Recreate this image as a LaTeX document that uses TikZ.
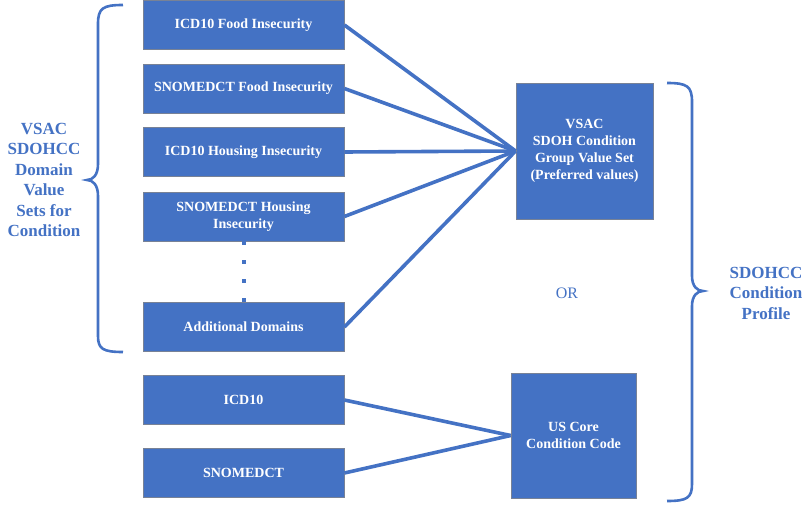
\documentclass[tikz,border=0pt]{standalone}
\usepackage{fontspec}
\setmainfont{Liberation Serif}
\usepackage{tikz}
\usetikzlibrary{positioning, calc}
\definecolor{myblue}{RGB}{68,114,196}
\definecolor{myedge}{RGB}{120,130,150}
\tikzset{
  box/.style={rectangle, draw=myedge, fill=myblue, text=white,
    minimum width=201pt, minimum height=49pt, align=center,
    font=\fontsize{14}{17}\selectfont\bfseries, line width=0.8pt, inner sep=0pt},
  bigbox/.style={rectangle, draw=myedge, fill=myblue, text=white,
    align=center, font=\fontsize{14}{17}\selectfont\bfseries,
    line width=0.8pt, inner sep=0pt},
  label/.style={text=myblue, align=center,
    font=\fontsize{17}{20.5}\selectfont\bfseries},
  link/.style={color=myblue, line width=3.6pt},
  brace/.style={color=myblue, line width=2.6pt},
  dots/.style={color=myblue, line width=4pt, dash pattern=on 4pt off 15pt}
}
\begin{document}
\begin{tikzpicture}[x=1pt, y=-1pt]
  \useasboundingbox (0,0) rectangle (811,505);

  % Domain value sets
  \node[box] (icdfood) at (243.5,25) {ICD10 Food Insecurity};
  \node[box] (snofood) at (243.5,88.5) {SNOMEDCT Food Insecurity};
  \node[box] (icdhouse) at (243.5,152) {ICD10 Housing Insecurity};
  \node[box] (snohouse) at (243.5,216.5) {SNOMEDCT Housing\\Insecurity};
  \node[box] (adddom) at (243.5,327) {Additional Domains};

  % Code systems
  \node[box] (icd) at (243.5,400) {ICD10};
  \node[box] (sno) at (243.5,473) {SNOMEDCT};

  % Targets
  \node[bigbox, minimum width=137pt, minimum height=136pt] (vsac) at (584.5,151)
    {VSAC\\SDOH Condition\\Group Value Set\\(Preferred values)};
  \node[bigbox, minimum width=125pt, minimum height=125pt] (uscore) at (573.5,435.5)
    {US Core\\Condition Code};

  % Labels
  \node[label] (domlabel) at (44,180) {VSAC\\SDOHCC\\Domain\\Value\\Sets for\\Condition};
  \node[label] (proflabel) at (766,293) {SDOHCC\\Condition\\Profile};
  \node[text=myblue, font=\fontsize{16}{18}\selectfont] (orlabel) at (567,293) {OR};

  % Dotted gap
  \draw[dots] (snohouse.south) -- (adddom.north);

  % Links
  \foreach \src in {icdfood, snofood, icdhouse, snohouse, adddom}
    \draw[link] (\src.east) -- (vsac.west);
  \draw[link] (icd.east) -- (uscore.west);
  \draw[link] (sno.east) -- (uscore.west);

  % Braces
  \draw[brace] (123,5) .. controls (103,5) and (98,8) .. (98,24) -- (98,164)
    .. controls (98,175) and (93,180) .. (87,180)
    .. controls (93,180) and (98,185) .. (98,196) -- (98,336)
    .. controls (98,349) and (103,352) .. (123,352);
  \draw[brace] (667,83) .. controls (687,83) and (692,86) .. (692,102) -- (692,276)
    .. controls (692,286) and (697,291) .. (703,291)
    .. controls (697,291) and (692,296) .. (692,306) -- (692,484)
    .. controls (692,498) and (687,501) .. (667,501);
\end{tikzpicture}
\end{document}
